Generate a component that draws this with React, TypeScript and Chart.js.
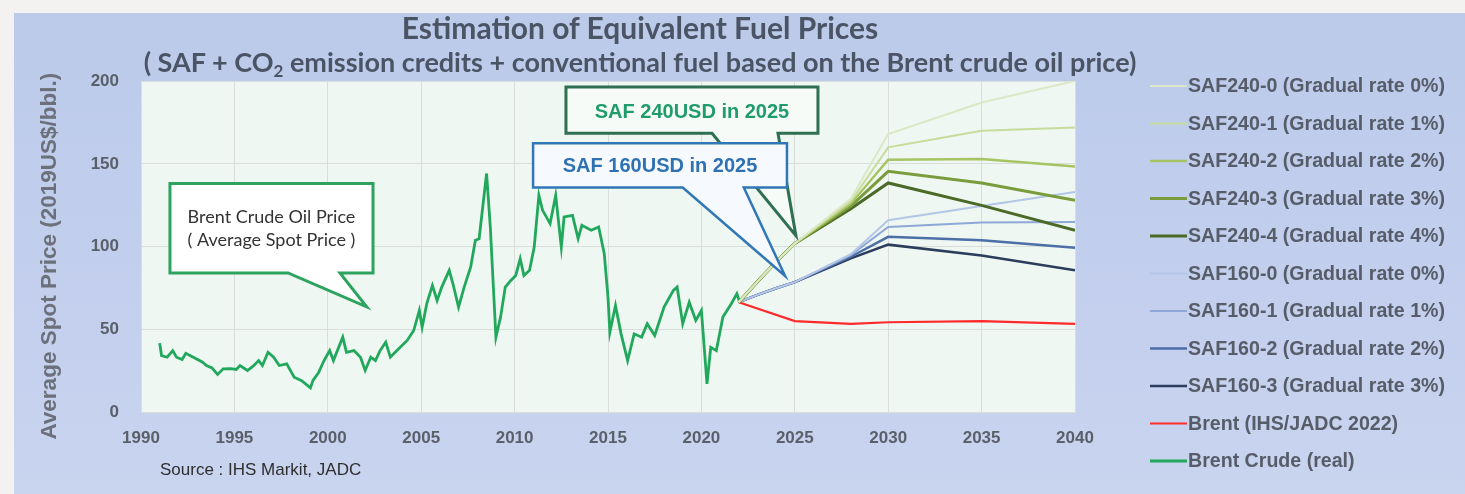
import React, { useEffect, useRef } from "react";
import { Chart, registerables } from "chart.js";

Chart.register(...registerables);

// ---------- data ----------
const realYears = [
  1991.0, 1991.1, 1991.4, 1991.7, 1991.9, 1992.2, 1992.4, 1992.8, 1993.3, 1993.5, 1993.8,
  1994.1, 1994.4, 1994.8, 1995.1, 1995.3, 1995.7, 1996.0, 1996.3, 1996.5, 1996.8, 1997.1,
  1997.4, 1997.8, 1998.2, 1998.6, 1999.07, 1999.2, 1999.5, 1999.8, 2000.1, 2000.3, 2000.8,
  2001.0, 2001.4, 2001.75, 2002.0, 2002.3, 2002.55, 2002.8, 2003.1, 2003.35, 2003.7, 2004.25,
  2004.6, 2004.9, 2005.05, 2005.3, 2005.6, 2005.85, 2006.1, 2006.5, 2006.7, 2007.0, 2007.3,
  2007.65, 2007.9, 2008.1, 2008.5, 2008.7, 2009.0, 2009.25, 2009.5, 2009.8, 2010.06, 2010.3,
  2010.5, 2010.8, 2011.05, 2011.3, 2011.5, 2011.9, 2012.2, 2012.5, 2012.65, 2013.1, 2013.4,
  2013.6, 2014.1, 2014.5, 2014.8, 2015.0, 2015.1, 2015.4, 2015.7, 2016.05, 2016.4, 2016.8,
  2017.1, 2017.5, 2018.0, 2018.5, 2018.7, 2019.0, 2019.35, 2019.7, 2020.0, 2020.3, 2020.5,
  2020.8, 2021.15, 2021.6, 2021.9, 2022.05,
];
const realPrices = [
  41.9, 34.4, 33.4, 37.4, 33.4, 32, 35.8, 33.4, 30.4, 28.4, 27,
  23, 26.4, 26.5, 26, 28.4, 25.4, 28, 31.4, 28.4, 36.4, 33.4,
  28.4, 29.4, 21.3, 19.3, 14.9, 19.3, 24, 31.4, 37.4, 31.4, 45.5,
  36.4, 37.4, 33.4, 25.4, 33.4, 31.4, 37.4, 42.5, 33.4, 37.4, 43.5,
  49.5, 61.6, 51.5, 65.7, 76.7, 67.6, 75.7, 85.8, 77.7, 63.6, 75.7,
  87.8, 103.9, 104.9, 144.2, 111.9, 45.5, 57.6, 75.7, 79.7, 82.7, 92.8,
  82.7, 85.8, 99.8, 131, 122, 114, 131, 99.8, 118, 119, 105,
  113, 110, 112, 95.8, 69.6, 48.5, 64.6, 47.5, 31.4, 47.5, 45.5,
  53.6, 46.5, 63.6, 73.7, 75.7, 53.6, 66.6, 55.6, 61.6, 17.3, 39.4,
  37.4, 57.6, 65.7, 71.7, 66.6,
];

const projYears = [2022, 2023, 2024, 2025, 2028, 2030, 2035, 2040];
const saf240_0 = [66.6, 79, 91, 102, 129, 168, 187, 200];
const saf240_1 = [66.6, 79, 91, 102, 127.5, 160, 170, 172];
const saf240_2 = [66.6, 79, 91, 102, 126, 152.5, 153, 148.5];
const saf240_3 = [66.6, 79, 91, 102, 124.5, 145.5, 138.5, 128];
const saf240_4 = [66.6, 79, 91, 102, 123, 138.5, 125, 110];
const saf160_0 = [66.6, 71, 75, 78.7, 95.5, 116, 124.6, 133];
const saf160_1 = [66.6, 71, 75, 78.7, 95, 112, 114.6, 115];
const saf160_2 = [66.6, 71, 75, 78.7, 94, 106, 104, 99.5];
const saf160_3 = [66.6, 71, 75, 78.7, 93, 101.3, 94.8, 85.8];

const ihsYears = [2022, 2025, 2028, 2030, 2035, 2040];
const ihsPrices = [66.6, 55.2, 53.5, 54.5, 55.2, 53.5];

const seriesLabels = [
  "SAF240-0 (Gradual rate 0%)",
  "SAF240-1 (Gradual rate 1%)",
  "SAF240-2 (Gradual rate 2%)",
  "SAF240-3 (Gradual rate 3%)",
  "SAF240-4 (Gradual rate 4%)",
  "SAF160-0 (Gradual rate 0%)",
  "SAF160-1 (Gradual rate 1%)",
  "SAF160-2 (Gradual rate 2%)",
  "SAF160-3 (Gradual rate 3%)",
  "Brent (IHS/JADC 2022)",
  "Brent Crude (real)",
];

const xMin = 1990;
const xMax = 2040;
const xStep = 5;
const yMin = 0;
const yMax = 200;
const yStep = 50;

// ---------- styles ----------
const seriesColors = [
  "#dbe8c6", "#c6dc9c", "#a6c463", "#7b9c3c", "#4b6a27",
  "#b3c6e6", "#8ea8d8", "#4d6ea6", "#2c3c5c",
  "#ff2a2a", "#21a85c",
];
const seriesWidths = [2, 2, 2.5, 3, 3, 2, 2, 2.5, 2.5, 2.2, 2.8];

const AXIS_FONT = '"Liberation Sans", Arial, sans-serif';
const SANS = '"Liberation Sans", Arial, sans-serif';

const callouts = [
  {
    box: [1991.55, 138.2, 2002.42, 84.2], base: [1997.87, 2000.65], tip: [2002.08, 63.8],
    lines: ["Brent Crude Oil Price", "( Average Spot Price )"],
    border: "#2ea35f", fill: "#ffffff", color: "#333333", font: "18px Lato, sans-serif", lw: 3, dy: 0,
  },
  {
    box: [2012.75, 196.4, 2026.24, 168.5], base: [2020.57, 2024.1], tip: [2025.06, 106.7],
    lines: ["SAF 240USD in 2025"],
    border: "#2f6f52", fill: "#f7fbf8", color: "#1f9c6b", font: 'bold 20px "Liberation Sans", Arial', lw: 3, dy: 2,
  },
  {
    box: [2010.99, 162.4, 2024.58, 135.8], base: [2019.0, 2022.27], tip: [2024.48, 82.4],
    lines: ["SAF 160USD in 2025"],
    border: "#2f77b6", fill: "#f6f9fd", color: "#2e72b4", font: 'bold 20px "Liberation Sans", Arial', lw: 2.5, dy: 1,
  },
];

const toXY = (xs: number[], ys: number[]) => xs.map((x, i) => ({ x, y: ys[i] }));

const plotBg = {
  id: "plotBg",
  beforeDraw(chart: any) {
    const { ctx, chartArea: a } = chart;
    ctx.save();
    ctx.fillStyle = "#eef7f1";
    ctx.fillRect(a.left, a.top, a.right - a.left, a.bottom - a.top);
    ctx.restore();
  },
};

const calloutPlugin = {
  id: "callouts",
  afterDatasetsDraw(chart: any) {
    const { ctx } = chart;
    const sx = chart.scales.x;
    const sy = chart.scales.y;
    ctx.save();
    for (const c of callouts) {
      const x1 = sx.getPixelForValue(c.box[0]);
      const y1 = sy.getPixelForValue(c.box[1]);
      const x2 = sx.getPixelForValue(c.box[2]);
      const y2 = sy.getPixelForValue(c.box[3]);
      const ba = sx.getPixelForValue(c.base[0]);
      const bb = sx.getPixelForValue(c.base[1]);
      const tx = sx.getPixelForValue(c.tip[0]);
      const ty = sy.getPixelForValue(c.tip[1]);
      ctx.beginPath();
      ctx.moveTo(x1, y1);
      ctx.lineTo(x2, y1);
      ctx.lineTo(x2, y2);
      ctx.lineTo(bb, y2);
      ctx.lineTo(tx, ty);
      ctx.lineTo(ba, y2);
      ctx.lineTo(x1, y2);
      ctx.closePath();
      ctx.fillStyle = c.fill;
      ctx.fill();
      ctx.lineWidth = c.lw;
      ctx.lineJoin = "miter";
      ctx.strokeStyle = c.border;
      ctx.stroke();
      ctx.fillStyle = c.color;
      ctx.font = c.font;
      ctx.textAlign = "center";
      ctx.textBaseline = "middle";
      const cx = (x1 + x2) / 2;
      const cy = (y1 + y2) / 2 + c.dy;
      const lh = 23;
      c.lines.forEach((t, i) => {
        ctx.fillText(t, cx, cy + (i - (c.lines.length - 1) / 2) * lh);
      });
    }
    ctx.restore();
  },
};

const legendPlugin = {
  id: "sideLegend",
  afterDraw(chart: any) {
    const { ctx, chartArea: a } = chart;
    ctx.save();
    const x0 = a.right + 75;
    const lineLen = 37;
    const y0 = a.top + 5;
    const pitch = 37.5;
    chart.data.datasets.forEach((ds: any, i: number) => {
      const y = y0 + i * pitch;
      ctx.beginPath();
      ctx.moveTo(x0, y);
      ctx.lineTo(x0 + lineLen, y);
      ctx.strokeStyle = ds.borderColor;
      ctx.lineWidth = ds.borderWidth;
      ctx.stroke();
      ctx.fillStyle = "#565d69";
      ctx.font = 'bold 19.6px "Liberation Sans", Arial, sans-serif';
      ctx.textAlign = "left";
      ctx.textBaseline = "middle";
      ctx.fillText(ds.label, x0 + lineLen + 1, y + 1);
    });
    ctx.restore();
  },
};

export default function App() {
  const ref = useRef<HTMLCanvasElement | null>(null);

  useEffect(() => {
    if (!ref.current) return;
    const safSets = [saf240_0, saf240_1, saf240_2, saf240_3, saf240_4, saf160_0, saf160_1, saf160_2, saf160_3];
    const datasets: any[] = safSets.map((vals, i) => ({
      label: seriesLabels[i],
      data: toXY(projYears, vals),
      borderColor: seriesColors[i],
      backgroundColor: seriesColors[i],
      borderWidth: seriesWidths[i],
      pointRadius: 0,
      tension: 0,
    }));
    datasets.push({
      label: seriesLabels[9],
      data: toXY(ihsYears, ihsPrices),
      borderColor: seriesColors[9],
      backgroundColor: seriesColors[9],
      borderWidth: seriesWidths[9],
      pointRadius: 0,
      tension: 0,
    });
    datasets.push({
      label: seriesLabels[10],
      data: toXY(realYears, realPrices),
      borderColor: seriesColors[10],
      backgroundColor: seriesColors[10],
      borderWidth: seriesWidths[10],
      pointRadius: 0,
      tension: 0,
    });

    const chart = new Chart(ref.current, {
      type: "line",
      data: { datasets },
      options: {
        animation: false,
        responsive: false,
        maintainAspectRatio: false,
        layout: { padding: { left: 22, top: 68, right: 390, bottom: 29 } },
        plugins: {
          legend: { display: false },
          tooltip: { enabled: false },
          title: { display: false },
        },
        scales: {
          x: {
            type: "linear",
            min: xMin,
            max: xMax,
            ticks: {
              stepSize: xStep,
              padding: 16,
              color: "#5a606a",
              autoSkip: false,
              maxRotation: 0,
              font: { family: AXIS_FONT, size: 17, weight: "bold" },
              callback: (v: any) => String(v),
            },
            grid: { color: "#d9dedb", drawTicks: false, lineWidth: 1 },
            border: { display: false },
          },
          y: {
            min: yMin,
            max: yMax,
            ticks: {
              stepSize: yStep,
              padding: 22,
              color: "#5a606a",
              font: { family: AXIS_FONT, size: 17, weight: "bold" },
            },
            grid: { color: "#d9dedb", drawTicks: false, lineWidth: 1 },
            border: { display: false },
            title: {
              display: true,
              text: "Average Spot Price (2019US$/bbl.)   ",
              color: "#6b707a",
              font: { family: SANS, size: 22.5, weight: "bold" },
              padding: { top: 0, bottom: 0 },
            },
            afterFit: (s: any) => {
              s.width = 105;
            },
          },
        },
      },
      plugins: [plotBg, calloutPlugin, legendPlugin],
    });
    return () => chart.destroy();
  }, []);

  return (
    <div style={{ position: "fixed", left: 0, top: 0, width: 1465, height: 494, background: "#f4f2f0", overflow: "hidden" }}>
      <div
        style={{
          position: "absolute", left: 14, top: 13, width: 1451, height: 481,
          background: "linear-gradient(180deg, #bccaea 0%, #c3cfed 60%, #c9d4ef 100%)",
        }}
      >
        <canvas ref={ref} width={1451} height={481} style={{ position: "absolute", left: 0, top: 0, width: 1451, height: 481 }} />
        <div
          style={{
            position: "absolute", left: 0, width: 1252, top: -3, textAlign: "center",
            font: "bold 30px Lato, sans-serif", lineHeight: "34px", color: "#4b5465", whiteSpace: "nowrap",
          }}
        >
          Estimation of Equivalent Fuel Prices
        </div>
        <div
          style={{
            position: "absolute", left: 0, width: 1252, top: 33, textAlign: "center",
            font: "bold 27px Lato, sans-serif", lineHeight: "32px", color: "#4b5465", whiteSpace: "nowrap",
          }}
        >
          ( SAF + CO<sub style={{ fontSize: "17px", verticalAlign: "-5px", lineHeight: 0 }}>2</sub> emission credits + conventional fuel based on the Brent crude oil price)
        </div>
        <div
          style={{
            position: "absolute", left: 146, top: 446, font: '17px "Liberation Sans", Arial, sans-serif',
            lineHeight: "22px", color: "#2e2e2e", whiteSpace: "nowrap",
          }}
        >
          Source : IHS Markit, JADC
        </div>
      </div>
    </div>
  );
}
